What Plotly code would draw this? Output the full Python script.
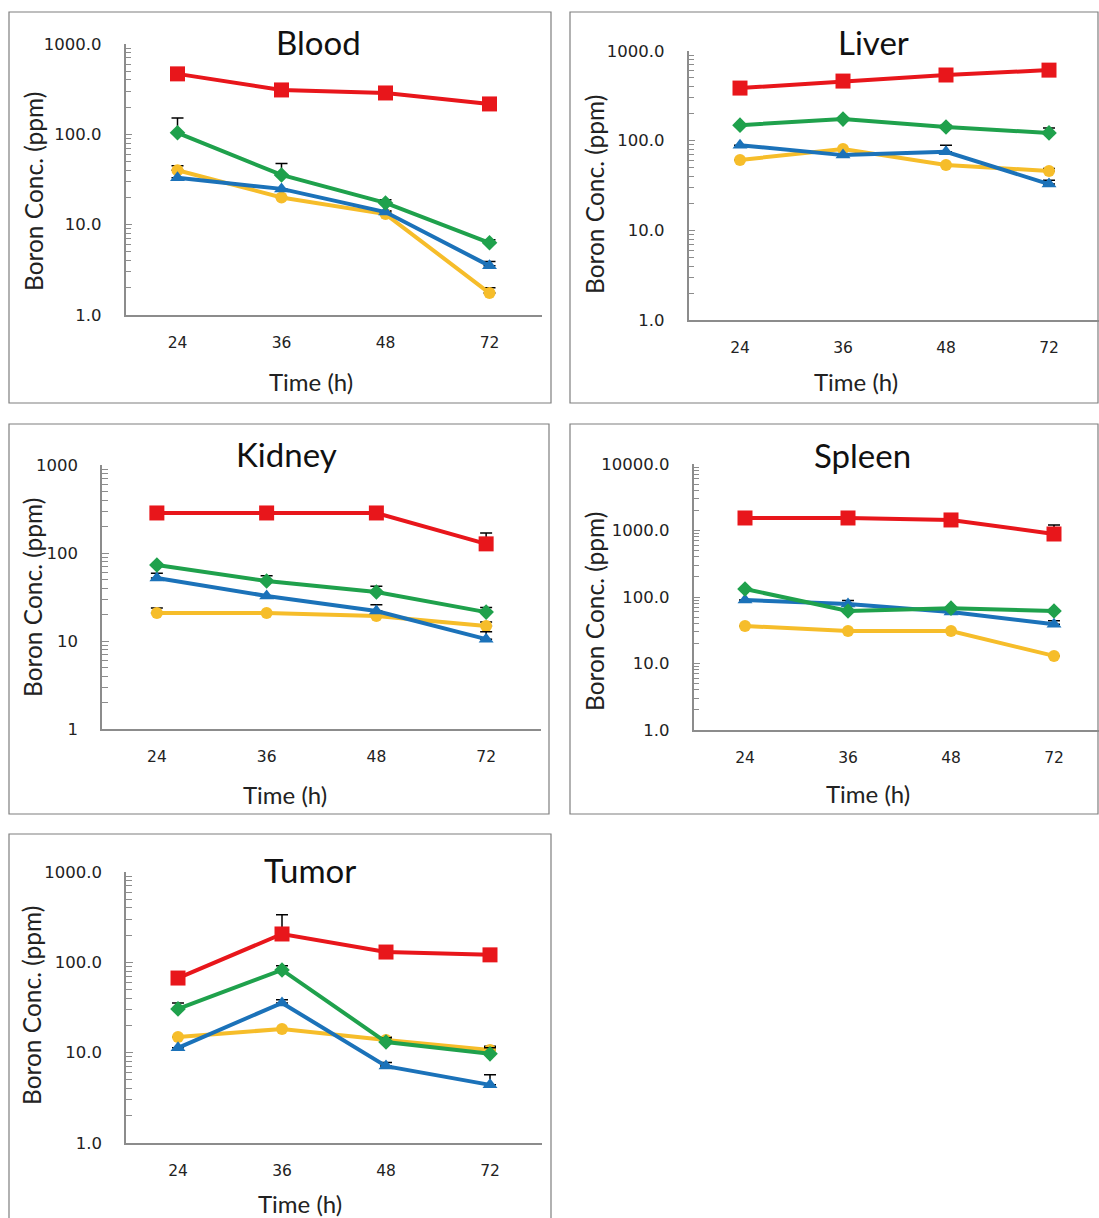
import plotly.graph_objects as go

W, H = 1099, 1218
FONT = "Lato"
TICKFONT = "DejaVu Sans"

times = ["24", "36", "48", "72"]

# Blood
blood_red = [467, 310, 287, 217]
blood_red_err = [0, 0, 0, 0]
blood_green = [104, 35.5, 17.4, 6.3]
blood_green_err = [48, 12, 1.5, 0.5]
blood_blue = [33, 24.9, 13.8, 3.5]
blood_blue_err = [0, 0, 0, 0.4]
blood_yellow = [40, 20, 13.1, 1.75]
blood_yellow_err = [5, 0, 1.2, 0.25]

# Liver
liver_red = [386, 462, 540, 612]
liver_red_err = [0, 0, 0, 0]
liver_green = [149, 174, 142, 122]
liver_green_err = [0, 0, 6, 16]
liver_blue = [89, 69, 75, 32.8]
liver_blue_err = [0, 0, 14, 3.5]
liver_yellow = [61, 80.6, 53.5, 46]
liver_yellow_err = [0, 0, 0, 3]

# Kidney
kidney_red = [285, 285, 285, 127]
kidney_red_err = [0, 0, 0, 42]
kidney_green = [73, 48, 36, 21.3]
kidney_green_err = [0, 7, 6, 2.8]
kidney_blue = [52, 32.5, 21.9, 10.5]
kidney_blue_err = [7, 0, 4, 2.2]
kidney_yellow = [20.8, 20.8, 19.2, 14.8]
kidney_yellow_err = [2.9, 0, 0, 1.6]

# Spleen
spleen_red = [1542, 1542, 1440, 886]
spleen_red_err = [0, 0, 0, 320]
spleen_green = [132, 61.5, 68, 61.5]
spleen_green_err = [0, 0, 0, 0]
spleen_blue = [90, 78.5, 59.5, 39]
spleen_blue_err = [0, 10, 0, 5]
spleen_yellow = [36.6, 30.8, 30.8, 13]
spleen_yellow_err = [0, 0, 0, 0]

# Tumor
tumor_red = [67, 206, 130, 121]
tumor_red_err = [0, 130, 0, 12]
tumor_green = [30.5, 82.4, 13.1, 9.7]
tumor_green_err = [5, 9, 1.5, 1.6]
tumor_blue = [11.3, 35.5, 7.1, 4.4]
tumor_blue_err = [0, 3, 0.7, 1.3]
tumor_yellow = [14.9, 18.3, 13.8, 10.7]
tumor_yellow_err = [0, 0, 1, 1.1]

ticks_dec3 = ["1.0", "10.0", "100.0", "1000.0"]
ticks_int3 = ["1", "10", "100", "1000"]
ticks_dec4 = ["1.0", "10.0", "100.0", "1000.0", "10000.0"]

RED, GREEN, BLUE, YELLOW = "#E8161B", "#1FA14C", "#1B72B9", "#F6BD2A"
STYLE = {
    "yellow": (YELLOW, "circle", 12),
    "blue": (BLUE, "triangle-up", 13),
    "green": (GREEN, "diamond", 12),
    "red": (RED, "square", 15),
}

panels = [
    dict(name="Blood", data={"yellow": (blood_yellow, blood_yellow_err), "blue": (blood_blue, blood_blue_err),
                             "green": (blood_green, blood_green_err), "red": (blood_red, blood_red_err)},
         ticks=ticks_dec3, x=(125.5, 541.5), y=(44, 315), box=(9, 12, 551, 403),
         title=(318, 42), ytitle=(33, 192), xtitle=(311, 382)),
    dict(name="Liver", data={"yellow": (liver_yellow, liver_yellow_err), "blue": (liver_blue, liver_blue_err),
                             "green": (liver_green, liver_green_err), "red": (liver_red, liver_red_err)},
         ticks=ticks_dec3, x=(688.5, 1100.5), y=(51, 320), box=(570, 12, 1098, 403),
         title=(873, 42), ytitle=(595, 195), xtitle=(856, 381)),
    dict(name="Kidney", data={"yellow": (kidney_yellow, kidney_yellow_err), "blue": (kidney_blue, kidney_blue_err),
                              "green": (kidney_green, kidney_green_err), "red": (kidney_red, kidney_red_err)},
         ticks=ticks_int3, x=(102, 541), y=(465, 729), box=(9, 424, 549, 814),
         title=(286, 454), ytitle=(32, 598), xtitle=(285, 794)),
    dict(name="Spleen", data={"yellow": (spleen_yellow, spleen_yellow_err), "blue": (spleen_blue, spleen_blue_err),
                              "green": (spleen_green, spleen_green_err), "red": (spleen_red, spleen_red_err)},
         ticks=ticks_dec4, x=(693.5, 1105.5), y=(464, 730), box=(570, 424, 1098, 814),
         title=(862, 455), ytitle=(594, 612), xtitle=(868, 793)),
    dict(name="Tumor", data={"yellow": (tumor_yellow, tumor_yellow_err), "blue": (tumor_blue, tumor_blue_err),
                             "green": (tumor_green, tumor_green_err), "red": (tumor_red, tumor_red_err)},
         ticks=ticks_dec3, x=(126, 542), y=(872, 1143), box=(9, 834, 551, 1230),
         title=(310, 870), ytitle=(31, 1006), xtitle=(300, 1203)),
]

fig = go.Figure()
shapes = []
annotations = []

def px_x(v):
    return v / W

def px_y(v):
    return 1 - v / H

for i, p in enumerate(panels, start=1):
    xa = "x" if i == 1 else f"x{i}"
    ya = "y" if i == 1 else f"y{i}"
    for key in ["yellow", "blue", "green", "red"]:
        vals, errs = p["data"][key]
        color, sym, size = STYLE[key]
        fig.add_trace(go.Scatter(
            x=times, y=vals, xaxis=xa, yaxis=ya, mode="lines+markers",
            line=dict(color=color, width=4),
            marker=dict(symbol=sym, size=size, color=color),
            error_y=dict(type="data", symmetric=False, array=errs,
                         arrayminus=[0] * len(errs), color="black", thickness=1.5, width=6),
            showlegend=False, cliponaxis=False,
        ))
    x0, x1 = p["x"]
    y0, y1 = p["y"]
    x1c = min(x1, W)
    n = len(times)
    step = (x1 - x0) / n
    xr = [-0.5, -0.5 + (x1c - x0) / step]
    ndec = len(p["ticks"]) - 1
    xkey = "xaxis" if i == 1 else f"xaxis{i}"
    ykey = "yaxis" if i == 1 else f"yaxis{i}"
    fig.update_layout(**{
        xkey: dict(domain=[px_x(x0), px_x(x1c)], anchor=ya, type="category",
                   categoryorder="array", categoryarray=times, range=xr, automargin=False,
                   showline=True, linecolor="#8c8c8c", linewidth=1.5, ticks="",
                   showgrid=False, zeroline=False, ticklabelstandoff=13,
                   tickfont=dict(family=TICKFONT, size=15.5, color="#222")),
        ykey: dict(domain=[px_y(y1), px_y(y0)], anchor=xa, type="log", range=[0, ndec],
                   tickvals=[10 ** k for k in range(ndec + 1)], ticktext=p["ticks"],
                   automargin=False,
                   showline=True, linecolor="#8c8c8c", linewidth=1.5,
                   ticks="inside", ticklen=7, tickcolor="#8c8c8c", tickwidth=1,
                   minor=dict(ticks="inside", ticklen=6, tickcolor="#8c8c8c", tickwidth=1,
                              dtick="D1", showgrid=False),
                   showgrid=False, zeroline=False, ticklabelstandoff=19,
                   tickfont=dict(family=TICKFONT, size=16.5, color="#222")),
    })
    bx0, by0, bx1, by1 = p["box"]
    shapes.append(dict(type="rect", xref="paper", yref="paper",
                       x0=px_x(bx0), x1=px_x(bx1), y0=px_y(by1), y1=px_y(by0),
                       line=dict(color="#7f7f7f", width=1.2), fillcolor="rgba(0,0,0,0)", layer="below"))
    tx, ty = p["title"]
    annotations.append(dict(text=p["name"], x=px_x(tx), y=px_y(ty), xref="paper", yref="paper",
                            showarrow=False, font=dict(family=FONT, size=33, color="#111"),
                            xanchor="center", yanchor="middle"))
    yx, yy = p["ytitle"]
    annotations.append(dict(text="Boron Conc. (ppm)", x=px_x(yx), y=px_y(yy), xref="paper", yref="paper",
                            showarrow=False, textangle=-90, font=dict(family=FONT, size=24.5, color="#222"),
                            xanchor="center", yanchor="middle"))
    xx, xy = p["xtitle"]
    annotations.append(dict(text="Time (h)", x=px_x(xx), y=px_y(xy), xref="paper", yref="paper",
                            showarrow=False, font=dict(family=FONT, size=24, color="#222"),
                            xanchor="center", yanchor="middle"))

fig.update_layout(width=W, height=H, template="none",
                  margin=dict(l=0, r=0, t=0, b=0, pad=0, autoexpand=False),
                  paper_bgcolor="white", plot_bgcolor="rgba(0,0,0,0)",
                  shapes=shapes, annotations=annotations, showlegend=False)

fig.write_html("out.html", config={"displayModeBar": False},
               post_script="document.body.style.margin='0';document.body.style.padding='0';"
                           "document.documentElement.style.overflow='hidden';"
                           "var d=document.getElementById('{plot_id}');"
                           "d.style.position='fixed';d.style.top='0px';d.style.left='0px';")
